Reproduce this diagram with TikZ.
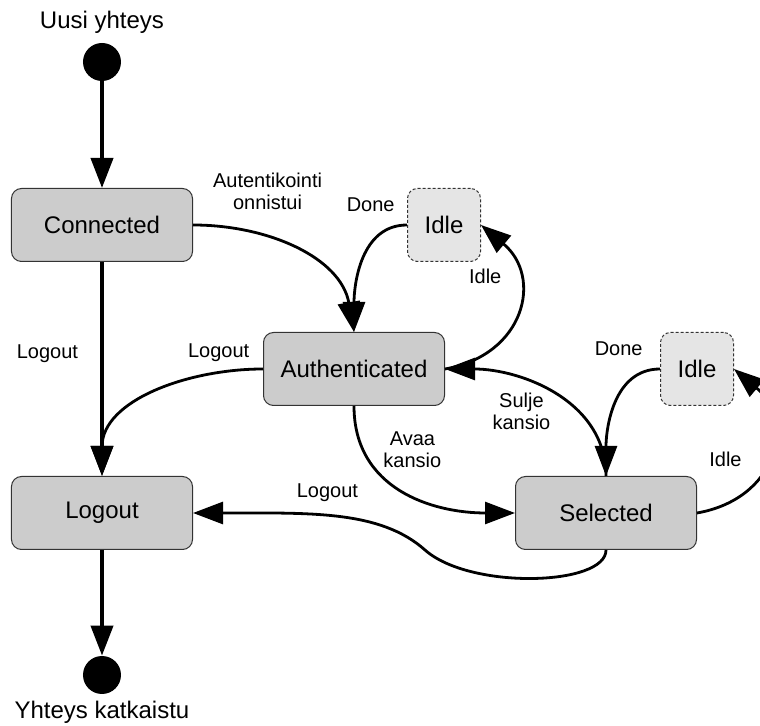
\documentclass[tikz,border=0pt]{standalone}
\usepackage{fontspec}
\setmainfont{Liberation Sans}
\usetikzlibrary{arrows.meta,positioning}
\tikzset{
     statebox/.style = {rectangle, rounded corners=5pt, draw=black!80, line width=0.5pt,
                        fill=black!20, minimum width=90.5pt, minimum height=36.5pt,
                        font=\fontsize{12}{14}\selectfont},
      idlebox/.style = {statebox, fill=black!10, minimum width=36.5pt,
                        dash pattern=on 1.5pt off 1pt},
       pseudo/.style = {circle, fill=black, minimum size=19pt, inner sep=0pt},
      caption/.style = {font=\fontsize{12}{14}\selectfont},
          lbl/.style = {font=\fontsize{10}{11}\selectfont, inner sep=1pt, align=center},
        trans/.style = {-{Triangle[length=15pt,width=11pt]}, line width=1.4pt},
   thicktrans/.style = {trans, line width=2pt},
    }

\begin{document}
\begin{tikzpicture}[node distance=2cm,on grid]
        \useasboundingbox (-51pt,-250.5pt) rectangle (329pt,112.5pt);
        \clip (-51pt,-250.5pt) rectangle (329pt,112.5pt);
        \node [statebox] (connected) {Connected};
        \node [pseudo] (start) [above=81.5pt of connected] {};
        \node [caption] (newconn) [above=20pt of start] {Uusi yhteys};
        \node [statebox] (logout) [below=144pt of connected] {Logout};
        \node [pseudo] (stop) [below=81pt of logout] {};
        \node [caption] (closed) [below=18.5pt of stop] {Yhteys katkaistu};
        \node [statebox] (auth) [below right=72pt and 126pt of connected] {Authenticated};
        \node [statebox] (sel) [right=252pt of logout] {Selected};
        \node [idlebox] (idleauth) [above right=72pt and 45pt of auth] {Idle};
        \node [idlebox] (idlesel) [above right=72pt and 45.5pt of sel] {Idle};
        \coordinate [below left=18.5pt and 90.5pt of sel] (dip);

        \path[thicktrans]
        (start) edge (connected)
        (connected) edge node[lbl, pos=0.43, left=10pt] {Logout} (logout)
        (logout) edge (stop);
        \path[trans]
        (connected.east) edge[out=0, in=100]
            node[lbl, pos=0.3, above=10.5pt, xshift=4.5pt] {Autentikointi\\onnistui} (auth.north)
        (idleauth.west) edge[out=180, in=90]
            node[lbl, pos=0, above left=5pt and 4.5pt] {Done} (auth.north)
        (auth.east) edge[out=10, in=-40, looseness=1.4]
            node[lbl, pos=0.7, left=5.5pt] {Idle} (idleauth.east)
        (auth.west) edge[out=180, in=90]
            node[lbl, pos=0.15, above=3pt, xshift=-5pt] {Logout} (logout.north)
        (auth.south) edge[out=-90, in=180, looseness=1.1]
            node[lbl, pos=0.5, above=10pt, xshift=4.5pt] {Avaa\\kansio} (sel.west)
        (sel.north) edge[out=90, in=0]
            node[lbl, pos=0.5, anchor=north east, yshift=2.5pt] {Sulje\\kansio} (auth.east)
        (idlesel.west) edge[out=180, in=90]
            node[lbl, pos=0, above left=5pt and 7pt] {Done} (sel.north)
        (sel.east) edge[out=10, in=-40, looseness=1.4]
            node[lbl, pos=0.5, left=12pt, yshift=-2pt] {Idle} (idlesel.east);
        % leaving a folder straight to logout
        \draw[trans] (sel.south) .. controls +(0,-18pt) and +(22.5pt,-20pt) .. (dip)
            .. controls +(-22.5pt,20pt) and +(58.5pt,0pt) .. (logout.east)
            node[lbl, pos=0.55, above=5pt, xshift=1.5pt] {Logout};
    \end{tikzpicture}
\end{document}
